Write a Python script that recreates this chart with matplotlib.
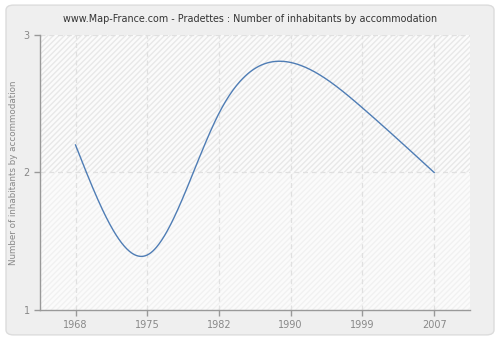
import numpy as np
import matplotlib
matplotlib.use("Agg")
import matplotlib.pyplot as plt
from matplotlib.patches import FancyBboxPatch, Rectangle

# ==========================================================
# DATA
# ==========================================================

years = ["1968", "1975", "1982", "1990", "1999", "2007"]
inhabitants = [2.2, 1.4, 2.43, 2.8, 2.47, 2.0]
y_ticks = [1, 2, 3]

TITLE = "www.Map-France.com - Pradettes : Number of inhabitants by accommodation"
Y_LABEL = "Number of inhabitants by accommodation"


# ==========================================================
# NATURAL CUBIC SPLINE (for drawing the smooth line)
# ==========================================================

def natural_spline(x, y, n=400):

    x = np.asarray(x, dtype=float)
    y = np.asarray(y, dtype=float)
    k = len(x)
    h = np.diff(x)

    A = np.zeros((k, k))
    b = np.zeros(k)
    A[0, 0] = 1
    A[-1, -1] = 1
    for i in range(1, k - 1):
        A[i, i - 1] = h[i - 1]
        A[i, i] = 2 * (h[i - 1] + h[i])
        A[i, i + 1] = h[i]
        b[i] = 6 * ((y[i + 1] - y[i]) / h[i] - (y[i] - y[i - 1]) / h[i - 1])
    m = np.linalg.solve(A, b)

    xs = np.linspace(x[0], x[-1], n)
    ys = np.empty_like(xs)
    for j, xv in enumerate(xs):
        i = min(np.searchsorted(x, xv, side="right") - 1, k - 2)
        t0 = x[i + 1] - xv
        t1 = xv - x[i]
        ys[j] = (
            m[i] * t0 ** 3 / (6 * h[i])
            + m[i + 1] * t1 ** 3 / (6 * h[i])
            + (y[i] / h[i] - m[i] * h[i] / 6) * t0
            + (y[i + 1] / h[i] - m[i + 1] * h[i] / 6) * t1
        )
    return xs, ys


# ==========================================================
# FIGURE
# ==========================================================

fig = plt.figure(figsize=(5, 3.4), dpi=100)
fig.patch.set_facecolor("white")

fig.patches.append(
    FancyBboxPatch(
        (0.012, 0.015), 0.976, 0.97,
        boxstyle="round,pad=0,rounding_size=0.015",
        transform=fig.transFigure,
        facecolor="#efefef",
        edgecolor="#dcdcdc",
        linewidth=1,
        zorder=-5
    )
)

ax = fig.add_axes([0.08, 0.0882, 0.86, 0.809])
ax.set_zorder(1)
ax.set_facecolor("#fbfbfb")

positions = np.arange(len(years))
ax.set_xlim(-0.495, len(years) - 0.5)
ax.set_ylim(1, 3)

# hatched background (upper part stronger, lower part fainter)
ax.add_patch(
    Rectangle(
        (0, 0.5), 1, 0.5,
        transform=ax.transAxes,
        facecolor="none",
        edgecolor="#e8e8e8",
        hatch="//////",
        linewidth=0,
        zorder=0
    )
)
ax.add_patch(
    Rectangle(
        (0, 0), 1, 0.5,
        transform=ax.transAxes,
        facecolor="none",
        edgecolor="#f1f1f1",
        hatch="//////",
        linewidth=0,
        zorder=0
    )
)

for p in positions:
    ax.axvline(p, color="#e0e0e0", linestyle=(0, (4, 3)), linewidth=0.9, zorder=1)
for yv in y_ticks[1:]:
    ax.axhline(yv, color="#e0e0e0", linestyle=(0, (4, 3)), linewidth=0.9, zorder=1)

xs, ys = natural_spline(positions, inhabitants)
ax.plot(xs, ys, color="#4f7db5", linewidth=1.0, zorder=3)

ax.set_xticks(positions)
ax.set_xticklabels(years)
ax.set_yticks(y_ticks)

for side in ["top", "right"]:
    ax.spines[side].set_visible(False)
for side in ["left", "bottom"]:
    ax.spines[side].set_color("#999999")
    ax.spines[side].set_linewidth(1)

ax.tick_params(
    axis="both",
    colors="#999999",
    labelcolor="#888888",
    labelsize=7,
    length=4,
    width=1,
    direction="out"
)

ax.set_ylabel(Y_LABEL, color="#888888", fontsize=6.3, labelpad=4)

fig.text(0.5, 0.945, TITLE, ha="center", va="center", fontsize=6.9, color="#333333")

fig.savefig("out.png", dpi=100, facecolor=fig.get_facecolor())
